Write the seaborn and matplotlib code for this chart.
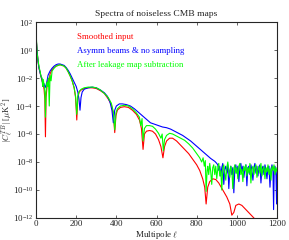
import numpy as np
import pandas as pd
import matplotlib
matplotlib.use("Agg")
import matplotlib.pyplot as plt
import seaborn as sns

# multipoles and log10 |C_l|
ell_red = [2, 5, 10, 15, 20, 25, 30, 35, 40, 44, 47, 50, 55, 60, 65, 70, 80, 90, 100, 110,
           120, 130, 140, 150, 160, 170, 180, 190, 197, 203, 208, 215, 225, 240, 260, 280, 300,
           320, 340, 360, 375, 385, 392, 398, 405, 420, 440, 460, 480, 500, 515, 525, 533, 540,
           550, 565, 580, 595, 610, 622, 632, 640, 650, 665, 680, 700, 720, 740, 760, 780, 800,
           815, 830, 840, 847, 855, 865, 880, 895, 910, 930, 950, 965, 975, 985, 995, 1010,
           1025, 1045, 1065, 1085, 1100, 1120]
logc_red = [0.6, 0.0, -0.8, -1.3, -1.6, -1.9, -2.2, -2.4, -2.8, -3.5, -6.2, -3.4, -2.6, -2.1,
            -2.3, -1.7, -1.4, -1.25, -1.15, -1.1, -1.05, -1.1, -1.15, -1.3, -1.55, -1.85, -2.2,
            -2.7, -3.4, -5.0, -3.4, -3.0, -2.85, -2.75, -2.7, -2.7, -2.75, -2.9, -3.1, -3.5,
            -3.9, -4.6, -5.9, -4.7, -4.3, -4.1, -4.05, -4.1, -4.3, -4.6, -5.0, -5.6, -7.1, -6.0,
            -5.8, -5.75, -5.8, -6.0, -6.4, -6.9, -7.7, -6.9, -6.5, -6.3, -6.3, -6.5, -6.8, -7.1,
            -7.4, -7.8, -8.2, -8.6, -9.2, -9.8, -11.0, -9.8, -9.4, -9.2, -9.25, -9.5, -10.0,
            -10.5, -11.0, -11.8, -11.6, -11.1, -11.0, -11.1, -11.4, -11.7, -12.0, -12.3, -12.7]

ell_blue = [2, 5, 10, 15, 20, 25, 30, 35, 40, 45, 50, 55, 60, 70, 80, 90, 100, 110, 120, 130,
            140, 150, 160, 170, 180, 190, 200, 208, 214, 219, 224, 230, 240, 260, 280, 300, 320,
            340, 355, 368, 378, 385, 392, 400, 415, 430, 450, 470, 490, 510, 530, 550, 570, 590,
            610, 630, 650, 670, 690, 710, 730, 750, 770, 790, 810, 830, 850, 870, 890, 900,
            905, 910, 915, 920, 925, 930, 935, 940, 945, 950, 955, 960, 965, 970, 975, 980,
            985, 990, 995, 1000, 1005, 1010, 1015, 1020, 1025, 1030, 1035, 1040, 1045, 1050,
            1055, 1060, 1065, 1070, 1075, 1080, 1085, 1090, 1095, 1100, 1105, 1110, 1115, 1120,
            1125, 1130, 1135, 1140, 1145, 1150, 1155, 1160, 1165, 1170, 1175, 1180, 1183, 1186,
            1190, 1195, 1198, 1200]
logc_blue = [0.6, 0.0, -0.8, -1.3, -1.6, -1.9, -2.1, -2.6, -2.4, -2.7, -2.5, -2.2, -1.8, -1.5,
             -1.3, -1.15, -1.05, -1.0, -1.0, -1.05, -1.1, -1.25, -1.45, -1.7, -2.0, -2.3, -2.6,
             -3.0, -3.5, -4.3, -3.4, -3.0, -2.8, -2.7, -2.65, -2.7, -2.85, -3.05, -3.3, -3.7,
             -4.3, -5.2, -4.3, -4.0, -3.85, -3.85, -3.9, -4.0, -4.2, -4.45, -4.7, -4.95, -5.2,
             -5.3, -5.4, -5.5, -5.55, -5.65, -5.8, -5.95, -6.1, -6.3, -6.5, -6.75, -7.0, -7.25,
             -7.5, -7.75, -7.95, -8.1,
             -8.2, -8.6, -8.3, -9.0, -8.4, -8.1, -9.6, -8.5, -8.3, -8.8, -8.2, -9.9, -8.6, -8.3,
             -8.9, -8.4, -10.2, -8.5, -8.2, -8.8, -8.3, -9.4, -8.4, -8.1, -8.7, -8.3, -9.1, -8.5,
             -8.2, -9.7, -8.4, -8.3, -8.9, -8.2, -8.6, -9.3, -8.4, -8.1, -8.8, -8.3, -9.0, -8.4,
             -8.2, -9.5, -8.5, -8.3, -8.9, -8.2, -8.6, -9.2, -8.4, -8.3, -9.8, -8.5, -8.2, -8.7,
             -11.4, -8.6, -8.3, -9.0, -11.0, -8.6]

ell_green = [2, 4, 6, 10, 15, 20, 25, 30, 33, 36, 40, 44, 47, 50, 54, 58, 62, 66, 70, 75, 80,
             90, 100, 110, 120, 130, 140, 150, 160, 170, 180, 190, 197, 203, 208, 215, 225, 240,
             260, 280, 300, 320, 340, 360, 375, 385, 392, 398, 405, 420, 440, 460, 480, 500,
             515, 522, 528, 533, 540, 550, 565, 580, 595, 610, 622, 628, 634, 640, 650, 665, 680,
             700, 720, 740, 760, 780, 800, 815, 825, 832, 838, 843, 847, 852,
             855, 860, 865, 870, 875, 880, 885, 890, 895, 900, 905, 910, 915, 920, 925, 930,
             935, 940, 945, 950, 955, 960, 965, 970, 975, 980, 985, 990, 995, 1000, 1005, 1010,
             1015, 1020, 1025, 1030, 1035, 1040, 1045, 1050, 1055, 1060, 1065, 1070, 1075, 1080,
             1085, 1090, 1095, 1100, 1105, 1110, 1115, 1120, 1125, 1130, 1135, 1140, 1145, 1150,
             1155, 1160, 1165, 1170, 1175, 1180, 1185, 1190, 1195, 1200]
logc_green = [0.8, 0.3, -0.3, -0.7, -1.2, -1.5, -1.9, -2.0, -2.6, -2.1, -2.5, -3.0, -4.8, -3.0,
              -2.3, -2.6, -2.0, -4.0, -1.8, -2.2, -1.5, -1.3, -1.15, -1.1, -1.05, -1.1, -1.15,
              -1.3, -1.55, -1.85, -2.2, -2.7, -3.3, -4.6, -3.3, -2.95, -2.8, -2.7, -2.65, -2.65,
              -2.7, -2.85, -3.1, -3.4, -3.8, -4.4, -5.7, -4.5, -4.2, -4.0, -3.95, -4.0, -4.2,
              -4.5, -4.8, -5.4, -4.9, -6.5, -5.6, -5.4, -5.4, -5.45, -5.65, -5.95, -6.3, -6.0,
              -7.2, -6.4, -6.1, -5.95, -6.0, -6.15, -6.3, -6.45, -6.7, -7.0, -7.4, -7.7, -8.0,
              -7.7, -8.3, -7.9, -10.1, -8.6,
              -8.3, -8.9, -8.1, -8.7, -9.6, -8.4, -8.2, -8.9, -8.3, -9.2, -8.5, -8.1, -9.0, -8.6,
              -10.0, -8.4, -8.2, -8.8, -9.3, -8.4, -8.0, -8.7, -9.1, -8.3, -8.6, -9.9, -8.5,
              -8.2, -8.8, -8.4, -9.2, -8.3, -8.1, -8.9, -8.5, -9.4, -8.3, -8.6, -8.2, -9.0, -8.4,
              -8.8, -8.1, -9.5, -8.5, -8.3, -8.9, -8.4, -8.2, -9.1, -8.6, -8.3, -8.8, -8.1,
              -9.0, -8.5, -8.3, -9.2, -8.4, -8.7, -8.2, -8.9, -8.5, -9.3, -8.3, -8.6, -8.2, -8.9,
              -8.4, -8.7]

series = [
    ("Smoothed input", ell_red, logc_red, "#ff0000"),
    ("Asymm beams & no sampling", ell_blue, logc_blue, "#0000ff"),
    ("After leakage map subtraction", ell_green, logc_green, "#00ff00"),
]

sns.set_style("ticks")
plt.rcParams["font.family"] = ["Liberation Serif", "DejaVu Serif"]
plt.rcParams["mathtext.fontset"] = "cm"

fig = plt.figure(figsize=(2.89, 2.40), dpi=100)
ax = fig.add_axes([0.1246, 0.0917, 0.8339, 0.8166])

for name, ell, logc, col in series:
    df = pd.DataFrame({"ell": ell, "cl": 10.0 ** np.array(logc)})
    sns.lineplot(data=df, x="ell", y="cl", ax=ax, color=col, lw=0.8,
                 estimator=None, label=name)

ax.set_yscale("log")
ax.set_xlim(0, 1200)
ax.set_ylim(1e-12, 1e2)
ax.set_xticks([0, 200, 400, 600, 800, 1000, 1200])
ax.set_yticks([10.0 ** k for k in range(-12, 3, 2)])
ax.minorticks_off()
ax.tick_params(direction="in", top=True, right=True, labelsize=6.5, length=2.5, width=0.5,
               pad=2)
ax.tick_params(axis="x", pad=1.5)
for s in ax.spines.values():
    s.set_linewidth(0.8)

ax.set_title("Spectra of noiseless CMB maps", fontsize=6.8, pad=4)
ax.set_xlabel(r"Multipole $\ell$", fontsize=6.5)
ax.set_ylabel(r"$|C_\ell^{TB}|$ [$\mu$K$^2$]", fontsize=6.2)
ax.xaxis.set_label_coords(0.5, -0.058)
ax.yaxis.set_label_coords(-0.086, 0.5)

leg = ax.legend(loc="upper left", bbox_to_anchor=(0.155, 0.96), frameon=False,
                handlelength=0, handletextpad=0, fontsize=6.3, labelspacing=0.62,
                labelcolor="linecolor", borderaxespad=0)
for h in leg.legend_handles:
    h.set_visible(False)

fig.savefig("out.png", dpi=100)
